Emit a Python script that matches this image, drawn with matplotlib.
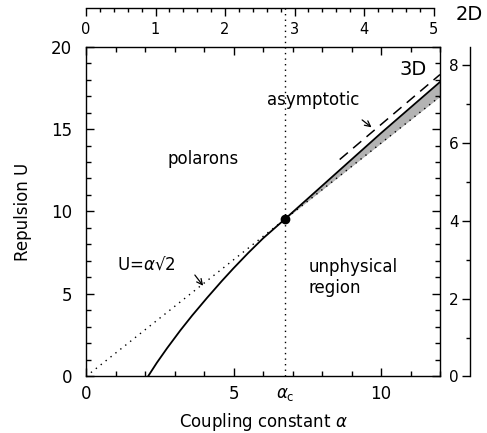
import numpy as np
import matplotlib
matplotlib.use("Agg")
import matplotlib.pyplot as plt
from matplotlib.ticker import MultipleLocator
from matplotlib.transforms import blended_transform_factory

# data
alpha_solid = [2.1, 2.4, 2.75, 3.2, 3.6, 4.1, 4.6, 5.0, 5.5, 6.0, 6.75, 8.0, 9.0, 10.0, 11.0, 12.0]
U_solid = [0.0, 0.83, 1.72, 2.80, 3.70, 4.76, 5.78, 6.56, 7.49, 8.37, 9.55, 11.55, 13.15, 14.75, 16.3, 17.85]
alpha_asym = [8.6, 12.0]
U_asym = [13.15, 18.3]
alpha_line = [0.0, 12.0]
alpha_c = 6.75
U_c = alpha_c * np.sqrt(2)
scale_2d = 4 / (3 * np.pi)   # 3D -> 2D scaling of alpha and U

plt.rcParams['font.family'] = ['DejaVu Sans']
plt.rcParams['mathtext.fontset'] = 'dejavusans'

fig = plt.figure(figsize=(4.87, 4.33), dpi=100)
ax = fig.add_axes([0.1766, 0.1305, 0.7269, 0.7621])

# sqrt(2) line
al = np.array(alpha_line)
ax.plot(al, al * np.sqrt(2), color='k', lw=1.0, ls=(0, (1, 3.5)))

# shaded region between solid curve and sqrt(2) line
a_s = np.array([a for a in alpha_solid if a >= alpha_c])
u_s = np.array([u for a, u in zip(alpha_solid, U_solid) if a >= alpha_c])
ax.fill_between(a_s, a_s * np.sqrt(2), u_s, color='0.7', lw=0)

ax.plot(alpha_solid, U_solid, color='k', lw=1.3)
ax.plot(alpha_asym, U_asym, color='k', lw=1.1, ls=(0, (7, 4.5)))

# critical coupling
ax.plot([alpha_c, alpha_c], [0, 22.33], color='k', lw=1.0, ls=(0, (1, 3)), clip_on=False)
ax.plot([alpha_c], [U_c], 'o', color='k', ms=6)

ax.set_xlim(0, 12)
ax.set_ylim(0, 20)
ax.xaxis.set_major_locator(MultipleLocator(5))
ax.xaxis.set_minor_locator(MultipleLocator(1))
ax.yaxis.set_major_locator(MultipleLocator(5))
ax.yaxis.set_minor_locator(MultipleLocator(1))
ax.tick_params(which='both', direction='in', top=True, right=True, width=1.0)
ax.tick_params(which='major', length=6)
ax.tick_params(which='minor', length=3.5)
ax.tick_params(axis='x', labelsize=12, pad=6)
ax.tick_params(axis='y', labelsize=12, pad=10)
for s in ax.spines.values():
    s.set_linewidth(1.0)

ax.set_xlabel(r'Coupling constant $\alpha$', fontsize=12, labelpad=6)
ax.set_ylabel('Repulsion U', fontsize=12, labelpad=14)

tr = blended_transform_factory(ax.transData, ax.transAxes)
ax.annotate(r'$\alpha_{\rm c}$', xy=(alpha_c, 0), xycoords=tr, xytext=(0, -6),
            textcoords='offset points', ha='center', va='top', fontsize=12)

# text labels
ax.text(2.75, 13.2, 'polarons', fontsize=12, ha='left', va='center')
ax.text(1.05, 6.75, r'U=$\alpha$√2', fontsize=12, ha='left', va='center')
ax.annotate('', xy=(3.97, 5.5), xytext=(3.69, 6.15),
            arrowprops=dict(arrowstyle='->', lw=0.9, color='k', shrinkA=0, shrinkB=0))
ax.text(6.15, 16.75, 'asymptotic', fontsize=12, ha='left', va='center')
ax.annotate('', xy=(9.68, 15.1), xytext=(9.36, 15.55),
            arrowprops=dict(arrowstyle='->', lw=0.9, color='k', shrinkA=0, shrinkB=0))
ax.text(7.55, 6.0, 'unphysical\nregion', fontsize=12, ha='left', va='center', linespacing=1.25)
ax.text(11.1, 18.6, '3D', fontsize=14, ha='center', va='center')

# top axis: 2D coupling
axt = fig.add_axes([0.1766, 0.9815 - 0.001, 0.7269, 0.001])
axt.set_xlim(0, 12 * scale_2d)
axt.patch.set_visible(False)
for k in ['left', 'right', 'bottom']:
    axt.spines[k].set_visible(False)
axt.spines['top'].set_bounds(0, 5)
axt.spines['top'].set_linewidth(1.0)
axt.set_yticks([])
axt.xaxis.set_major_locator(MultipleLocator(1))
axt.xaxis.set_minor_locator(MultipleLocator(0.2))
axt.tick_params(axis='x', which='both', direction='in', top=True, bottom=False,
                labeltop=False, labelbottom=True, labelsize=10.5, pad=10, width=1.0)
axt.tick_params(axis='x', which='major', length=6)
axt.tick_params(axis='x', which='minor', length=3)
fig.text(469 / 487, 1 - 15 / 433, '2D', fontsize=14, ha='center', va='center')

# right axis: 2D repulsion
axr = fig.add_axes([0.9651, 0.1305, 0.001, 0.7621])
axr.set_ylim(0, 20 * scale_2d)
axr.patch.set_visible(False)
for k in ['top', 'right', 'bottom']:
    axr.spines[k].set_visible(False)
axr.spines['left'].set_linewidth(1.0)
axr.set_xticks([])
axr.yaxis.set_major_locator(MultipleLocator(2))
axr.yaxis.set_minor_locator(MultipleLocator(1))
axr.tick_params(axis='y', which='both', direction='out', labelsize=11, pad=2, width=1.0)
axr.tick_params(axis='y', which='major', length=6)
axr.tick_params(axis='y', which='minor', length=3)

fig.savefig('out.png', dpi=100)
